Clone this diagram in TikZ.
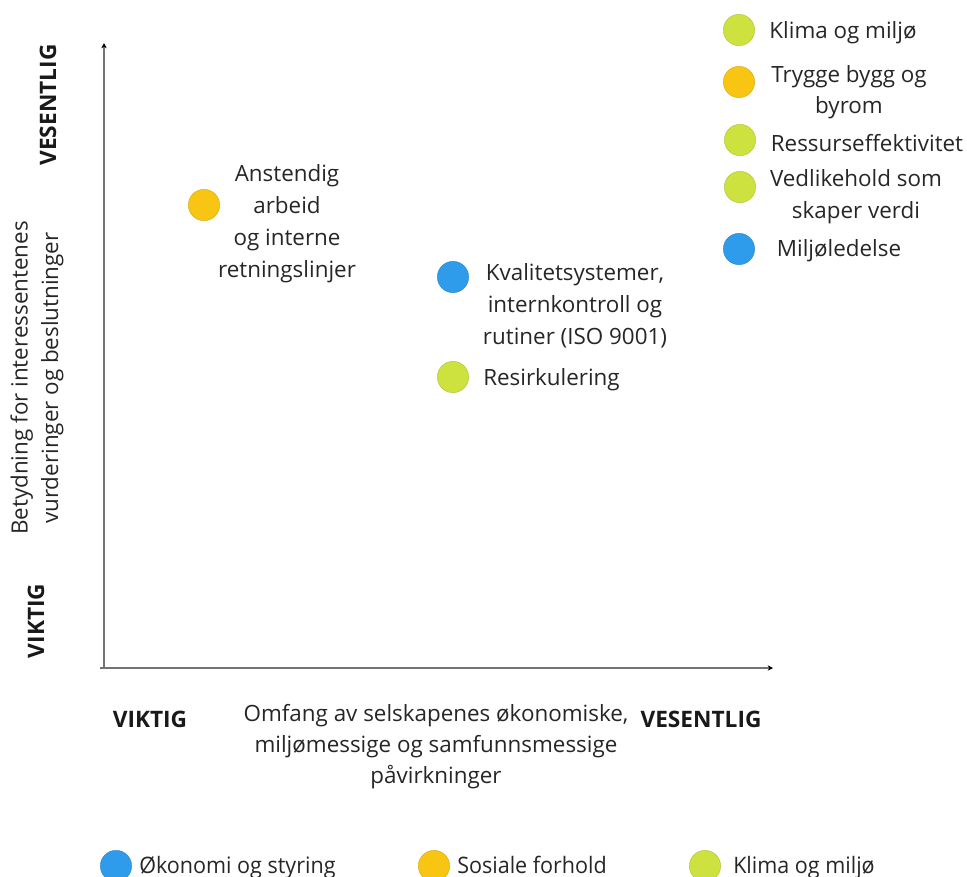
\documentclass[tikz,border=0pt]{standalone}
\usepackage{fontspec}
\setmainfont{Open Sans}
\usetikzlibrary{arrows.meta}
\definecolor{cblue}{HTML}{2E9BEB}
\definecolor{cyellow}{HTML}{F8C513}
\definecolor{cgreen}{HTML}{CDE23E}
\tikzset{
  dot/.style={circle,minimum size=23.5pt,inner sep=0pt,draw=#1!85!black,line width=0.3pt,fill=#1},
  lbl/.style={font=\fontsize{16.8}{24}\selectfont,text=black!85,align=center,inner sep=0pt},
  bold/.style={font=\fontsize{17}{20}\selectfont\bfseries,text=black!90,inner sep=0pt},
  axis/.style={draw=black!55,line width=1pt,-{Stealth[length=4pt,width=4pt,black]}},
  leg/.style={font=\fontsize{17}{20}\selectfont,text=black!85,inner sep=0pt,anchor=base west}
}
\begin{document}
\begin{tikzpicture}[x=0.75pt,y=-0.75pt]
\useasboundingbox (0,0) rectangle (967,876);
% axes
\coordinate (o) at (104,668);
\coordinate (ytop) at (104,43);
\coordinate (xend) at (773,668);
\coordinate (xs) at (100,668);
\draw[axis] (o) -- (ytop);
\draw[axis] (xs) -- (xend);
% axis labels
\node[bold,rotate=90] (yv) at (48,105) {VESENTLIG};
\node[bold,rotate=90] (yk) at (36,621) {VIKTIG};
\node[lbl,rotate=90,font=\fontsize{16.8}{23}\selectfont] (ylab) at (37,378) {Betydning for interessentenes\\vurderinger og beslutninger};
\node[bold] (xk) at (150,719) {VIKTIG};
\node[bold] (xv) at (701,719) {VESENTLIG};
\node[lbl,font=\fontsize{16.8}{23.3}\selectfont] (xlab) at (436,747) {Omfang av selskapenes økonomiske,\\miljømessige og samfunnsmessige\\påvirkninger};
% plot points
\node[dot=cyellow] (d1) at (204,205) {};
\node[lbl] (t1) at (287,224) {Anstendig\\arbeid\\og interne\\retningslinjer};
\node[dot=cblue] (d2) at (453,277) {};
\node[lbl] (t2) at (575,306) {Kvalitetsystemer,\\internkontroll og\\rutiner (ISO 9001)};
\node[dot=cgreen] (d3) at (453,377) {};
\node[lbl,anchor=west] (t3) at (483,380) {Resirkulering};
% right column
\node[dot=cgreen] (r1) at (739,30) {};
\node[lbl] (rt1) at (843,33) {Klima og miljø};
\node[dot=cyellow] (r2) at (739,82) {};
\node[lbl,font=\fontsize{16.8}{23.5}\selectfont] (rt2) at (849,92) {Trygge bygg og\\byrom};
\node[dot=cgreen] (r3) at (740,140) {};
\node[lbl] (rt3) at (867,143) {Ressurseffektivitet};
\node[dot=cgreen] (r4) at (740,187) {};
\node[lbl] (rt4) at (856,197) {Vedlikehold som\\skaper verdi};
\node[dot=cblue] (r5) at (739,249) {};
\node[lbl] (rt5) at (839,251) {Miljøledelse};
% legend
\node[dot=cblue] (l1) at (116,866) {};
\node[leg] (lt1) at (139,873) {\scalebox{0.95}[1]{Økonomi og styring}};
\node[dot=cyellow] (l2) at (434,866) {};
\node[leg] (lt2) at (457,873) {\scalebox{0.95}[1]{Sosiale forhold}};
\node[dot=cgreen] (l3) at (705,866) {};
\node[leg] (lt3) at (733,873) {\scalebox{0.95}[1]{Klima og miljø}};
\end{tikzpicture}
\end{document}
